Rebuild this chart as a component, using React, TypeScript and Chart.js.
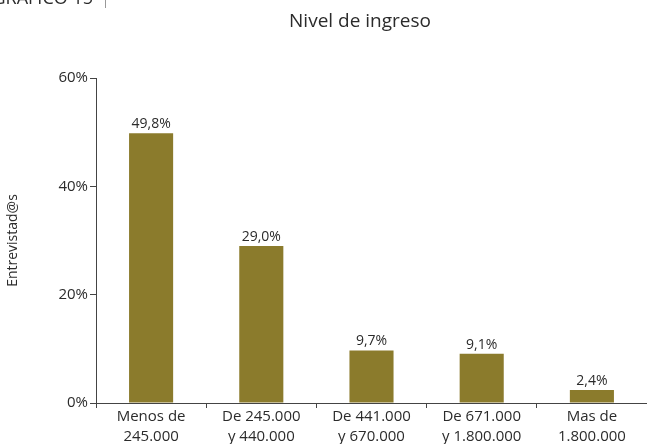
import React, { useEffect, useRef } from "react";
import { Chart, registerables } from "chart.js";

Chart.register(...registerables);

const categories: string[][] = [
  ["Menos de", "245.000"],
  ["De 245.000", "y 440.000"],
  ["De 441.000", "y 670.000"],
  ["De 671.000", "y 1.800.000"],
  ["Mas de", "1.800.000"],
];
const values: number[] = [49.8, 29.0, 9.7, 9.1, 2.4];
const yTicks: number[] = [0, 20, 40, 60];
const chartTitle = "Nivel de ingreso";
const yTitle = "Entrevistad@s";
const heading = "GRÁFICO 15";

const FONT = "'Open Sans', 'Noto Sans', sans-serif";
const TEXT = "#2b2b2b";
const BAR = "#8B7B2C";

const fmt = (v: number) => v.toFixed(1).replace(".", ",") + "%";

export default function App() {
  const ref = useRef<HTMLCanvasElement | null>(null);
  useEffect(() => {
    if (!ref.current) return;
    const overlay = {
      id: "overlay",
      afterDatasetsDraw(chart: any) {
        const ctx = chart.ctx;
        ctx.save();
        const meta = chart.getDatasetMeta(0);
        ctx.fillStyle = TEXT;
        ctx.font = `14px ${FONT}`;
        ctx.textAlign = "center";
        ctx.textBaseline = "bottom";
        meta.data.forEach((el: any, i: number) => {
          ctx.fillText(fmt(values[i]), el.x, el.y - 2);
        });
        // title
        ctx.font = `19px ${FONT}`;
        ctx.textBaseline = "middle";
        ctx.fillText(chartTitle, 360, 22);
        // cut-off heading
        ctx.textAlign = "right";
        ctx.textBaseline = "alphabetic";
        ctx.font = `18px ${FONT}`;
        ctx.fillText(heading, 93, 4);
        ctx.strokeStyle = "#999";
        ctx.lineWidth = 1;
        ctx.beginPath();
        ctx.moveTo(105.5, 0);
        ctx.lineTo(105.5, 8);
        ctx.stroke();
        ctx.restore();
      },
    };
    const chart = new Chart(ref.current, {
      type: "bar",
      data: {
        labels: categories,
        datasets: [
          {
            data: values,
            backgroundColor: BAR,
            categoryPercentage: 1,
            barPercentage: 0.4,
          },
        ],
      },
      options: {
        responsive: false,
        animation: false,
        layout: { padding: { top: 78, left: 0, right: 0, bottom: 0 } },
        plugins: {
          legend: { display: false },
          tooltip: { enabled: false },
          title: { display: false },
        },
        scales: {
          x: {
            afterFit: (s: any) => {
              s.height = 41;
            },
            grid: {
              display: true,
              drawOnChartArea: false,
              drawTicks: true,
              tickLength: 5,
              color: "#444",
              offset: true,
            },
            border: { display: true, color: "#444", width: 1 },
            ticks: {
              color: TEXT,
              font: { family: FONT, size: 15, lineHeight: 1.3 },
              padding: -1,
              maxRotation: 0,
              autoSkip: false,
            },
          },
          y: {
            min: 0,
            max: 60,
            afterFit: (s: any) => {
              s.width = 96;
            },
            afterBuildTicks: (s: any) => {
              s.ticks = yTicks.map((v) => ({ value: v }));
            },
            grid: {
              display: true,
              drawOnChartArea: false,
              drawTicks: true,
              tickLength: 6,
              color: "#444",
            },
            border: { display: true, color: "#444", width: 1 },
            ticks: {
              color: TEXT,
              font: { family: FONT, size: 15 },
              padding: 2,
              callback: (v: any) => v + "%",
            },
            title: {
              display: true,
              text: yTitle,
              color: TEXT,
              font: { family: FONT, size: 14 },
              padding: { top: 5, bottom: 0 },
            },
          },
        },
      },
      plugins: [overlay],
    });
    return () => chart.destroy();
  }, []);
  return (
    <div style={{ position: "absolute", left: 0, top: 0, width: 647, height: 444, background: "#fff" }}>
      <canvas ref={ref} width={647} height={444} />
    </div>
  );
}
